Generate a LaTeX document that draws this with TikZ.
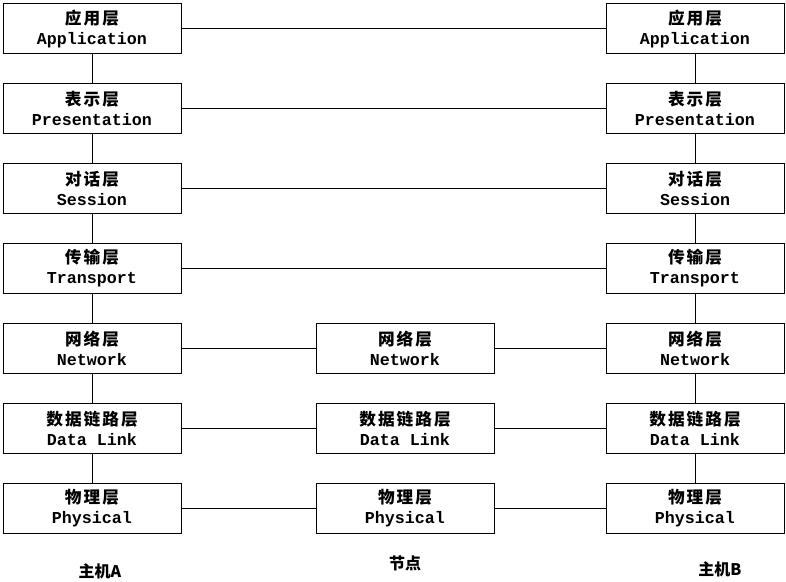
\documentclass[tikz,border=0pt]{standalone}
\usepackage{fontspec}
\newfontfamily\cjk[LetterSpace=12]{Noto Sans CJK SC}
\newfontfamily\cjkplain{Noto Sans CJK SC}
\newfontfamily\mono{Liberation Mono}
\begin{document}
\begin{tikzpicture}[x=0.75pt,y=-0.75pt,
  layer/.style={draw,line width=0.75pt,minimum width=178*0.75pt,minimum height=50*0.75pt,inner sep=0pt,align=center,font=\fontsize{12.5}{17}\selectfont},
  link/.style={line width=0.75pt},
  hostlabel/.style={font=\cjkplain\fontsize{12}{14}\selectfont\bfseries}]
\useasboundingbox (0,0) rectangle (786,582);
\newcommand\lay[2]{{\cjk\bfseries\fontsize{12.5}{17}\selectfont #1\hspace{-1.5pt}}\\[-2pt]{\mono\bfseries #2}}
\foreach \n/\y/\zh/\en in {a/28.5/应用层/Application,p/108.5/表示层/Presentation,s/188/对话层/Session,t/268/传输层/Transport,n/348/网络层/Network,d/428/数据链路层/Data Link,h/508/物理层/Physical}{
  \node[layer] (L\n) at (92,\y) {\lay{\zh}{\en}};
  \node[layer] (R\n) at (695,\y) {\lay{\zh}{\en}};
}
\foreach \n/\y/\zh/\en in {n/348/网络层/Network,d/428/数据链路层/Data Link,h/508/物理层/Physical}{
  \node[layer] (M\n) at (405,\y) {\lay{\zh}{\en}};
}
\foreach \a/\b in {a/p,p/s,s/t,t/n,n/d,d/h}{
  \draw[link] (L\a) -- (L\b);
  \draw[link] (R\a) -- (R\b);
}
\foreach \a in {a,p,s,t}{\draw[link] (L\a) -- (R\a);}
\foreach \a in {n,d,h}{\draw[link] (L\a) -- (M\a); \draw[link] (M\a) -- (R\a);}
\node[hostlabel] (hA) at (100,571) {主机A};
\node[hostlabel] (mid) at (405,563) {节点};
\node[hostlabel] (hB) at (720,569) {主机B};
\end{tikzpicture}
\end{document}
